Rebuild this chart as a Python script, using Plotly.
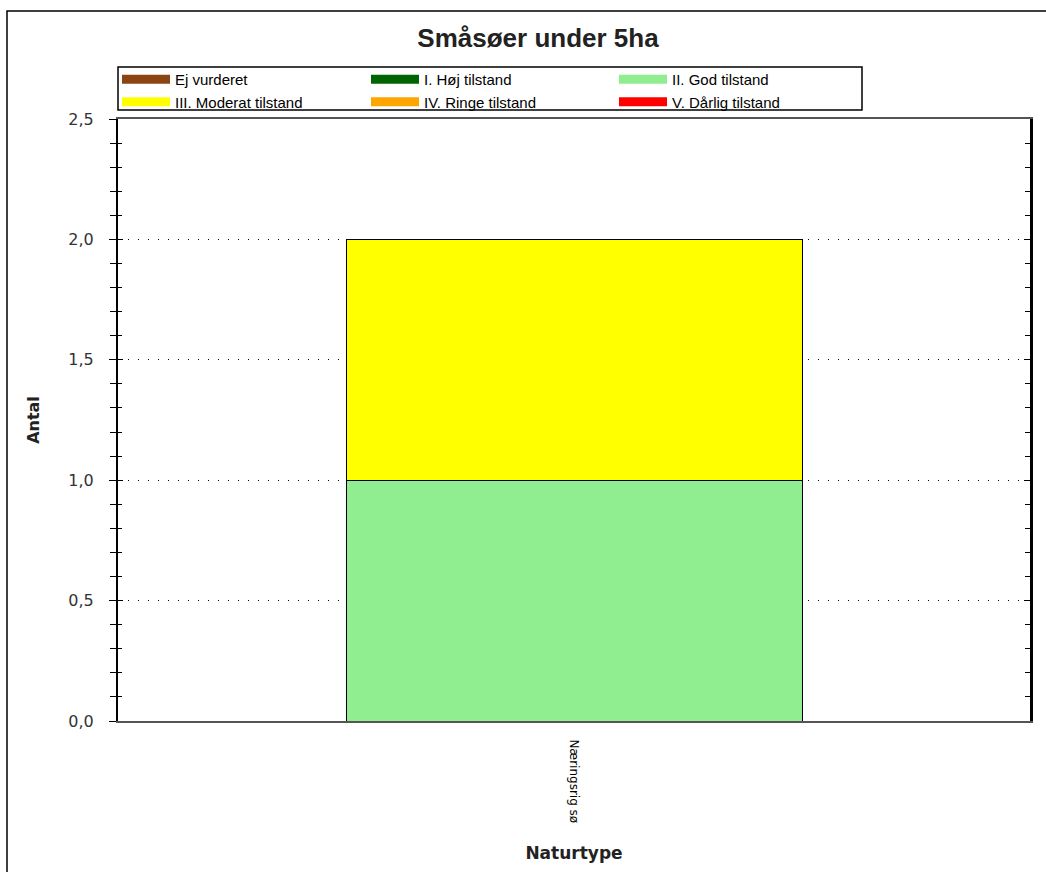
import plotly.graph_objects as go

categories = ["Næringsrig sø"]
series_names = ["Ej vurderet", "I. Høj tilstand", "II. God tilstand",
                "III. Moderat tilstand", "IV. Ringe tilstand", "V. Dårlig tilstand"]
ej_vurderet = [0]
hoej = [0]
god = [1]
moderat = [1]
ringe = [0]
daarlig = [0]
series_values = [ej_vurderet, hoej, god, moderat, ringe, daarlig]
colors = ["#8B4513", "#006400", "#90EE90", "#FFFF00", "#FFA500", "#FF0000"]
y_ticks = [0, 0.5, 1.0, 1.5, 2.0, 2.5]
minor_ticks = [i / 10 for i in range(26)]
# legend column of each series (three columns, two rows)
legend_cols = ["legend", "legend2", "legend3", "legend", "legend2", "legend3"]

W, H = 1046, 872
L, R, T, B = 118, 16, 119, 151
pw, ph = W - L - R, H - T - B


def px_x(p):
    return (p - L) / pw


def px_y(p):
    return (H - B - p) / ph


fig = go.Figure()
for name, vals, col in zip(series_names, series_values, colors):
    fig.add_trace(go.Bar(
        x=categories, y=vals, name=name, width=1, showlegend=False,
        marker=dict(color=col, line=dict(color="black", width=1)),
    ))
# legend-only entries (wide swatches)
for name, col, lg in zip(series_names, colors, legend_cols):
    fig.add_trace(go.Scatter(
        x=[None], y=[None], mode="lines", name=name, legend=lg,
        line=dict(color=col, width=9), hoverinfo="skip",
    ))

# helper traces so extra axes are drawn
fig.add_trace(go.Scatter(x=categories, y=[None], yaxis="y2", showlegend=False, hoverinfo="skip"))
fig.add_trace(go.Scatter(x=categories, y=[None], yaxis="y3", showlegend=False, hoverinfo="skip"))

axis_common = dict(range=[0, 2.5], tickvals=y_ticks, fixedrange=True)
legend_font = dict(family="Liberation Sans", size=15, color="black")
legend_common = dict(orientation="v", yanchor="top", xanchor="left",
                     y=px_y(63), font=legend_font, bgcolor="rgba(0,0,0,0)",
                     borderwidth=0, tracegroupgap=0, itemwidth=48,
                     traceorder="normal")

fig.update_layout(
    width=W, height=H,
    margin=dict(l=L, r=R, t=T, b=B),
    paper_bgcolor="white", plot_bgcolor="white",
    separators=", ",
    barmode="stack",
    title=dict(text="<b>Småsøer under 5ha</b>", x=538 / W, y=1 - 38 / H,
               xanchor="center", yanchor="middle",
               font=dict(family="Liberation Sans", size=26, color="#222")),
    legend=dict(**legend_common, x=px_x(117)),
    legend2=dict(**legend_common, x=px_x(366)),
    legend3=dict(**legend_common, x=px_x(614)),
    xaxis=dict(
        range=[-1, 1], type="category",
        showline=True, linecolor="#555", linewidth=2, mirror=True,
        ticks="", tickangle=90, ticklabelstandoff=14,
        tickfont=dict(family="DejaVu Sans", size=12, color="black"),
        title=dict(text="<b>Naturtype</b>", standoff=25,
                   font=dict(family="DejaVu Sans", size=17, color="#222")),
        showgrid=False, zeroline=False,
    ),
    yaxis=dict(
        **axis_common,
        tickformat=".1f",
        ticks="outside", ticklen=7, tickcolor="black", tickwidth=1,
        ticklabelstandoff=12,
        showline=True, linecolor="black", linewidth=2,
        tickfont=dict(family="DejaVu Sans", size=16, color="#333"),
        showgrid=True, gridcolor="black", gridwidth=1, griddash="1px,9px",
        zeroline=False,
        minor=dict(tickvals=minor_ticks, ticks="outside",
                   ticklen=6, tickcolor="black", showgrid=False),
        title=dict(text="<b>Antal</b>", standoff=25,
                   font=dict(family="DejaVu Sans", size=16, color="#222")),
    ),
    yaxis3=dict(
        **axis_common, overlaying="y", side="left",
        ticks="inside", ticklen=5, tickcolor="black", showticklabels=False,
        showline=False, showgrid=False, zeroline=False,
        minor=dict(tickvals=minor_ticks, ticks="inside",
                   ticklen=4, tickcolor="black", showgrid=False),
    ),
    yaxis2=dict(
        **axis_common, overlaying="y", side="right",
        ticks="inside", ticklen=6, tickcolor="black", showticklabels=False,
        showline=True, linecolor="black", linewidth=2.5,
        showgrid=False, zeroline=False,
        minor=dict(tickvals=minor_ticks, ticks="inside",
                   ticklen=5, tickcolor="black", showgrid=False),
    ),
    shapes=[
        dict(type="rect", xref="paper", yref="paper",
             x0=px_x(7), x1=px_x(W + 10), y0=px_y(H + 10), y1=px_y(11),
             line=dict(color="black", width=1.5), fillcolor="rgba(0,0,0,0)",
             layer="below"),
        dict(type="rect", xref="paper", yref="paper",
             x0=px_x(118), x1=px_x(862), y0=px_y(110), y1=px_y(67),
             line=dict(color="black", width=1.5), fillcolor="white",
             layer="below"),
    ],
)

fig.write_html("out.html", config={"displayModeBar": False},
               post_script="document.body.style.margin='0';")
